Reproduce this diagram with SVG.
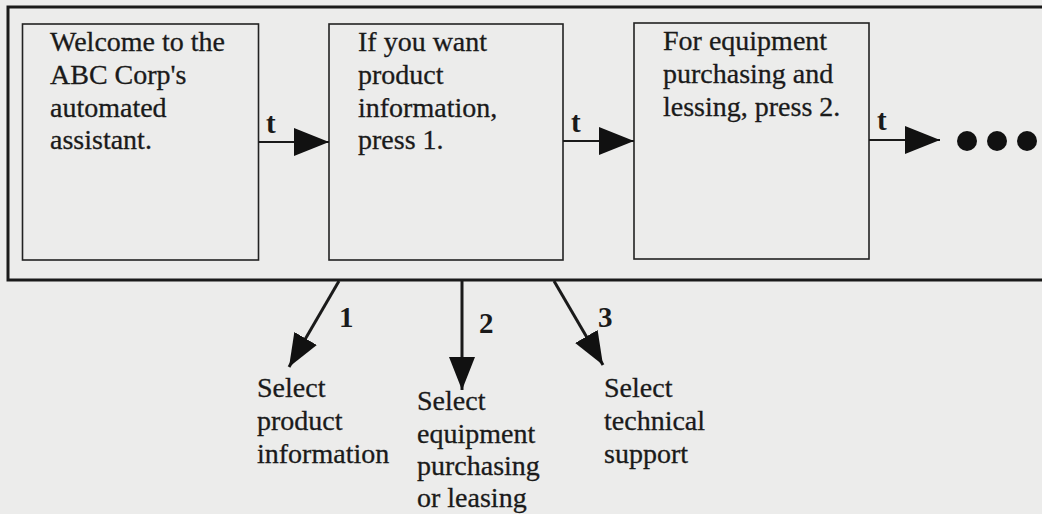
<svg xmlns="http://www.w3.org/2000/svg" width="1042" height="514" viewBox="0 0 1042 514">
  <defs>
    <style>
      .frame { fill: none; stroke: #1a1a1a; stroke-width: 3; }
      .box { fill: none; stroke: #222; stroke-width: 1.6; }
      .txt { font-family: "Liberation Serif", "Times New Roman", serif; font-size: 28px; fill: #1a1a1a; stroke: #1a1a1a; stroke-width: 0.3; }
      .lbl { font-family: "Liberation Serif", "Times New Roman", serif; font-size: 29px; font-weight: bold; fill: #1a1a1a; }
      .flow { fill: none; stroke: #1a1a1a; stroke-width: 2; }
      .branch { fill: none; stroke: #1a1a1a; stroke-width: 3; }
    </style>
    <marker id="headH" markerUnits="userSpaceOnUse" markerWidth="36" markerHeight="28" refX="35" refY="14" orient="auto">
      <path d="M0,0 L35,14 L0,28 z" fill="#111"/>
    </marker>
    <marker id="headB" markerUnits="userSpaceOnUse" markerWidth="34" markerHeight="26" refX="33" refY="13" orient="auto">
      <path d="M0,0 L33,13 L0,26 z" fill="#111"/>
    </marker>
  </defs>

  <rect x="0" y="0" width="1042" height="514" fill="#ececeb"/>

  <!-- menu frame -->
  <rect class="frame" x="8" y="7" width="1045" height="273"/>

  <g id="node-welcome">
    <rect class="box" x="22.5" y="24" width="236" height="236"/>
    <text class="txt" x="50" y="51">Welcome to the</text>
    <text class="txt" x="50" y="84">ABC Corp's</text>
    <text class="txt" x="50" y="117">automated</text>
    <text class="txt" x="50" y="149">assistant.</text>
  </g>

  <g id="node-option1">
    <rect class="box" x="329" y="24" width="234" height="236"/>
    <text class="txt" x="358" y="51">If you want</text>
    <text class="txt" x="358" y="84">product</text>
    <text class="txt" x="358" y="117">information,</text>
    <text class="txt" x="358" y="149">press 1.</text>
  </g>

  <g id="node-option2">
    <rect class="box" x="634" y="23" width="235" height="236"/>
    <text class="txt" x="663" y="50">For equipment</text>
    <text class="txt" x="663" y="83">purchasing and</text>
    <text class="txt" x="663" y="116">lessing, press 2.</text>
  </g>

  <g id="node-more">
    <circle cx="967" cy="141" r="10" fill="#111"/>
    <circle cx="997" cy="141" r="10" fill="#111"/>
    <circle cx="1027" cy="141" r="10" fill="#111"/>
  </g>

  <g id="node-select-product">
    <text class="txt" x="257" y="397">Select</text>
    <text class="txt" x="257" y="430">product</text>
    <text class="txt" x="257" y="463">information</text>
  </g>

  <g id="node-select-equipment">
    <text class="txt" x="417" y="410">Select</text>
    <text class="txt" x="417" y="443">equipment</text>
    <text class="txt" x="417" y="475">purchasing</text>
    <text class="txt" x="417" y="507">or leasing</text>
  </g>

  <g id="node-select-support">
    <text class="txt" x="604" y="397">Select</text>
    <text class="txt" x="604" y="430">technical</text>
    <text class="txt" x="604" y="463">support</text>
  </g>

  <g id="connectors">
    <!-- timeouts between prompts -->
    <line class="flow" x1="258.5" y1="142" x2="329" y2="142" marker-end="url(#headH)"/>
    <text class="lbl" x="266" y="133">t</text>
    <line class="flow" x1="563" y1="141" x2="634" y2="141" marker-end="url(#headH)"/>
    <text class="lbl" x="571" y="132">t</text>
    <line class="flow" x1="869" y1="140" x2="940" y2="140" marker-end="url(#headH)"/>
    <text class="lbl" x="877" y="130">t</text>

    <!-- key presses -->
    <line class="branch" x1="339" y1="281" x2="289" y2="367" marker-end="url(#headB)"/>
    <text class="lbl" x="339" y="327">1</text>
    <line class="branch" x1="462" y1="281" x2="462" y2="390" marker-end="url(#headB)"/>
    <text class="lbl" x="479" y="333">2</text>
    <line class="branch" x1="554" y1="281" x2="603" y2="365" marker-end="url(#headB)"/>
    <text class="lbl" x="598" y="327">3</text>
  </g>
</svg>
